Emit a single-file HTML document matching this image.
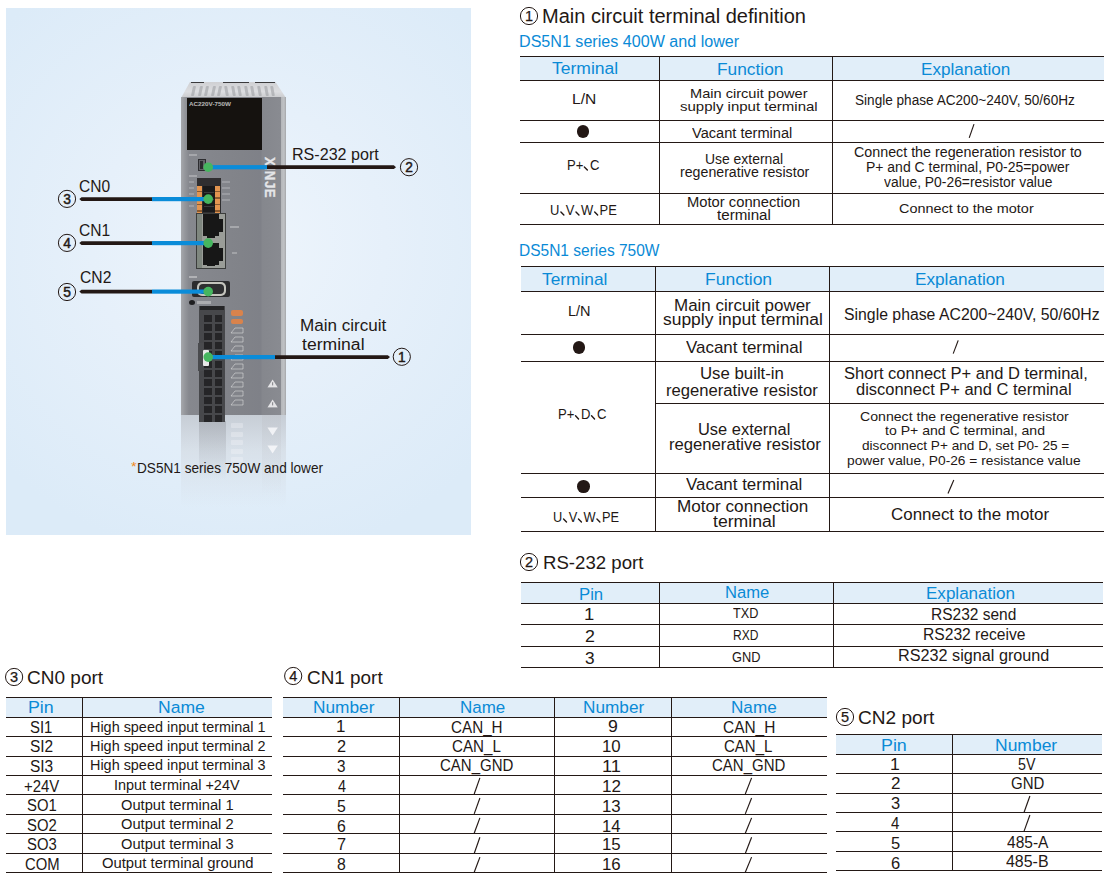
<!DOCTYPE html>
<html><head><meta charset="utf-8"><style>
html,body{margin:0;padding:0;background:#fff;width:1111px;height:878px;overflow:hidden;position:relative}
.t{position:absolute;white-space:nowrap;line-height:1;font-family:"Liberation Sans",sans-serif;transform-origin:0 0}
</style></head><body>
<div style="position:absolute;left:6px;top:8px;width:465px;height:527px;background:radial-gradient(ellipse 70% 60% at 50% 45%, #eef5fc 0%, #e6f0fa 45%, #dcebf8 100%);"></div>
<div style="position:absolute;left:181px;top:415px;width:105px;height:92px;background:linear-gradient(to bottom, rgba(175,178,184,0.55) 0%, rgba(205,209,215,0.45) 40%, rgba(232,238,246,0) 100%);"></div>
<div style="position:absolute;left:199px;top:421px;width:27px;height:58px;background:linear-gradient(to bottom, rgba(120,122,128,0.30), rgba(200,205,215,0));"></div>
<div style="position:absolute;left:262px;top:415px;width:19px;height:80px;background:linear-gradient(to bottom, rgba(190,192,198,0.35), rgba(220,225,235,0));"></div>
<div style="position:absolute;left:231px;top:423.0px;width:12px;height:5px;background:rgba(250,250,252,0.3);border-radius:1px"></div>
<div style="position:absolute;left:231px;top:431.5px;width:12px;height:5px;background:rgba(250,250,252,0.3);border-radius:1px"></div>
<div style="position:absolute;left:231px;top:440.0px;width:12px;height:5px;background:rgba(250,250,252,0.3);border-radius:1px"></div>
<div style="position:absolute;left:231px;top:448.5px;width:12px;height:5px;background:rgba(250,250,252,0.3);border-radius:1px"></div>
<div style="position:absolute;left:231px;top:457.0px;width:12px;height:5px;background:rgba(250,250,252,0.3);border-radius:1px"></div>
<div style="position:absolute;left:231px;top:465.5px;width:12px;height:5px;background:rgba(250,250,252,0.3);border-radius:1px"></div>
<div style="position:absolute;left:181px;top:82px;width:105px;height:16px;background:linear-gradient(to bottom,#cfd0d3,#dcdde0 60%,#c9cacd);clip-path:polygon(8.5% 0,90% 0,100% 100%,0 100%)"></div>
<div style="position:absolute;left:192.0px;top:86px;width:3px;height:10px;background:rgba(140,142,146,0.45);border-radius:1px;transform:skewX(-12deg)"></div>
<div style="position:absolute;left:198.6px;top:86px;width:3px;height:10px;background:rgba(140,142,146,0.45);border-radius:1px;transform:skewX(-12deg)"></div>
<div style="position:absolute;left:205.2px;top:86px;width:3px;height:10px;background:rgba(140,142,146,0.45);border-radius:1px;transform:skewX(-12deg)"></div>
<div style="position:absolute;left:211.8px;top:86px;width:3px;height:10px;background:rgba(140,142,146,0.45);border-radius:1px;transform:skewX(-12deg)"></div>
<div style="position:absolute;left:218.4px;top:86px;width:3px;height:10px;background:rgba(140,142,146,0.45);border-radius:1px;transform:skewX(-12deg)"></div>
<div style="position:absolute;left:225.0px;top:86px;width:3px;height:10px;background:rgba(140,142,146,0.45);border-radius:1px;transform:skewX(10deg)"></div>
<div style="position:absolute;left:231.6px;top:86px;width:3px;height:10px;background:rgba(140,142,146,0.45);border-radius:1px;transform:skewX(10deg)"></div>
<div style="position:absolute;left:238.2px;top:86px;width:3px;height:10px;background:rgba(140,142,146,0.45);border-radius:1px;transform:skewX(10deg)"></div>
<div style="position:absolute;left:244.8px;top:86px;width:3px;height:10px;background:rgba(140,142,146,0.45);border-radius:1px;transform:skewX(10deg)"></div>
<div style="position:absolute;left:251.4px;top:86px;width:3px;height:10px;background:rgba(140,142,146,0.45);border-radius:1px;transform:skewX(10deg)"></div>
<div style="position:absolute;left:258.0px;top:86px;width:3px;height:10px;background:rgba(140,142,146,0.45);border-radius:1px;transform:skewX(10deg)"></div>
<div style="position:absolute;left:264.6px;top:86px;width:3px;height:10px;background:rgba(140,142,146,0.45);border-radius:1px;transform:skewX(10deg)"></div>
<div style="position:absolute;left:271.2px;top:86px;width:3px;height:10px;background:rgba(140,142,146,0.45);border-radius:1px;transform:skewX(10deg)"></div>
<div style="position:absolute;left:191px;top:82px;width:13px;height:1.2px;background:#3a3a3c;"></div>
<div style="position:absolute;left:223px;top:82px;width:26px;height:1.2px;background:#3a3a3c;"></div>
<div style="position:absolute;left:255px;top:82px;width:20px;height:1.2px;background:#3a3a3c;"></div>
<div style="position:absolute;left:181px;top:97px;width:105px;height:318px;background:linear-gradient(to right,#a6a8ac 0px,#94969b 4px,#86888e 8px,#818389 60px,#7f8188 80px,#85878d 81px,#898b91 100px,#b4b6b9 100px,#c0c2c5 103px,#a3a5a8 105px);"></div>
<div style="position:absolute;left:187px;top:98px;width:75px;height:52px;background:#15120f;"></div>
<div style="position:absolute;left:189px;top:101px;font:bold 6px 'Liberation Sans';line-height:6px;color:rgba(240,240,240,0.75);transform-origin:0 0;transform:scaleX(1.05);white-space:nowrap">AC220V-750W</div>
<div style="position:absolute;left:189px;top:154px;width:8px;height:2px;background:rgba(225,225,228,0.35);"></div>
<div style="position:absolute;left:198px;top:159px;width:8px;height:12px;background:#626368;border:1px solid #2d2d30;box-sizing:border-box"></div>
<div style="position:absolute;left:200px;top:161px;width:3px;height:8px;background:#2b2b2e;"></div>
<div style="position:absolute;left:189px;top:175px;width:8px;height:2px;background:rgba(225,225,228,0.35);"></div>
<div style="position:absolute;left:189px;top:181px;width:5px;height:2px;background:rgba(225,225,228,0.25);"></div>
<div style="position:absolute;left:189px;top:187px;width:5px;height:2px;background:rgba(225,225,228,0.25);"></div>
<div style="position:absolute;left:189px;top:193px;width:5px;height:2px;background:rgba(225,225,228,0.25);"></div>
<div style="position:absolute;left:189px;top:199px;width:5px;height:2px;background:rgba(225,225,228,0.25);"></div>
<div style="position:absolute;left:189px;top:205px;width:5px;height:2px;background:rgba(225,225,228,0.25);"></div>
<div style="position:absolute;left:222px;top:181px;width:8px;height:2px;background:rgba(225,225,228,0.25);"></div>
<div style="position:absolute;left:222px;top:187px;width:8px;height:2px;background:rgba(225,225,228,0.25);"></div>
<div style="position:absolute;left:222px;top:193px;width:8px;height:2px;background:rgba(225,225,228,0.25);"></div>
<div style="position:absolute;left:222px;top:199px;width:8px;height:2px;background:rgba(225,225,228,0.25);"></div>
<div style="position:absolute;left:197px;top:178px;width:24px;height:35px;background:#2f2e30;"></div>
<div style="position:absolute;left:197px;top:186px;width:5px;height:27px;background:repeating-linear-gradient(to bottom,#e39550 0px,#e39550 5px,#8a5a30 5px,#8a5a30 6.5px);"></div>
<div style="position:absolute;left:215px;top:186px;width:5px;height:27px;background:repeating-linear-gradient(to bottom,#e39550 0px,#e39550 5px,#8a5a30 5px,#8a5a30 6.5px);"></div>
<div style="position:absolute;left:203px;top:186px;width:12px;height:26px;background:#1a1a1b;"></div>
<div style="position:absolute;left:204px;top:192px;width:10px;height:1px;background:#3a3a3c;"></div>
<div style="position:absolute;left:204px;top:199px;width:10px;height:1px;background:#3a3a3c;"></div>
<div style="position:absolute;left:204px;top:206px;width:10px;height:1px;background:#3a3a3c;"></div>
<div style="position:absolute;left:196px;top:213px;width:30px;height:56px;background:#3b3d3c;"></div>
<div style="position:absolute;left:197px;top:214px;width:28px;height:54px;background:#9a9d98;"></div>
<div style="position:absolute;left:197px;top:214px;width:5px;height:54px;background:#7f877f;"></div>
<div style="position:absolute;left:203px;top:214px;width:16px;height:22px;background:#171717;"></div>
<div style="position:absolute;left:203px;top:243px;width:16px;height:22px;background:#171717;"></div>
<div style="position:absolute;left:219px;top:219px;width:4px;height:13px;background:#171717;"></div>
<div style="position:absolute;left:219px;top:248px;width:4px;height:13px;background:#171717;"></div>
<div style="position:absolute;left:207px;top:235px;width:8px;height:3px;background:#171717;"></div>
<div style="position:absolute;left:207px;top:264px;width:8px;height:2px;background:#171717;"></div>
<div style="position:absolute;left:230px;top:226px;width:9px;height:2px;background:rgba(235,235,235,0.35);"></div>
<div style="position:absolute;left:232px;top:252px;width:5px;height:2px;background:rgba(235,235,235,0.3);"></div>
<div style="position:absolute;left:189px;top:276px;width:8px;height:2px;background:rgba(230,230,230,0.45);"></div>
<div style="position:absolute;left:192px;top:281px;width:38px;height:16px;background:#2c2c2e;border-radius:2px"></div>
<div style="position:absolute;left:197px;top:282px;width:29px;height:14px;background:#c4c4bd;border-radius:5px"></div>
<div style="position:absolute;left:199px;top:284px;width:25px;height:10px;background:#2e2e30;border-radius:4px"></div>
<div style="position:absolute;left:189px;top:300px;width:6px;height:5px;background:#1e1e20;border-radius:50%"></div>
<div style="position:absolute;left:197px;top:301px;width:14px;height:3px;background:rgba(230,230,230,0.4);"></div>
<div style="position:absolute;left:199px;top:306px;width:26px;height:116px;background:#47484b;"></div>
<div style="position:absolute;left:200px;top:306px;width:24px;height:4px;background:#252527;"></div>
<div style="position:absolute;left:204px;top:315.0px;width:8px;height:7px;background:#252527;"></div>
<div style="position:absolute;left:215px;top:315.0px;width:7px;height:7px;background:#252527;"></div>
<div style="position:absolute;left:204px;top:324.1px;width:8px;height:7px;background:#252527;"></div>
<div style="position:absolute;left:215px;top:324.1px;width:7px;height:7px;background:#252527;"></div>
<div style="position:absolute;left:204px;top:333.2px;width:8px;height:7px;background:#252527;"></div>
<div style="position:absolute;left:215px;top:333.2px;width:7px;height:7px;background:#252527;"></div>
<div style="position:absolute;left:204px;top:342.3px;width:8px;height:7px;background:#252527;"></div>
<div style="position:absolute;left:215px;top:342.3px;width:7px;height:7px;background:#252527;"></div>
<div style="position:absolute;left:204px;top:351.4px;width:8px;height:7px;background:#252527;"></div>
<div style="position:absolute;left:215px;top:351.4px;width:7px;height:7px;background:#252527;"></div>
<div style="position:absolute;left:204px;top:360.5px;width:8px;height:7px;background:#252527;"></div>
<div style="position:absolute;left:215px;top:360.5px;width:7px;height:7px;background:#252527;"></div>
<div style="position:absolute;left:204px;top:369.6px;width:8px;height:7px;background:#252527;"></div>
<div style="position:absolute;left:215px;top:369.6px;width:7px;height:7px;background:#252527;"></div>
<div style="position:absolute;left:204px;top:378.7px;width:8px;height:7px;background:#252527;"></div>
<div style="position:absolute;left:215px;top:378.7px;width:7px;height:7px;background:#252527;"></div>
<div style="position:absolute;left:204px;top:387.8px;width:8px;height:7px;background:#252527;"></div>
<div style="position:absolute;left:215px;top:387.8px;width:7px;height:7px;background:#252527;"></div>
<div style="position:absolute;left:204px;top:396.9px;width:8px;height:7px;background:#252527;"></div>
<div style="position:absolute;left:215px;top:396.9px;width:7px;height:7px;background:#252527;"></div>
<div style="position:absolute;left:204px;top:406.0px;width:8px;height:7px;background:#252527;"></div>
<div style="position:absolute;left:215px;top:406.0px;width:7px;height:7px;background:#252527;"></div>
<div style="position:absolute;left:204px;top:415.1px;width:8px;height:7px;background:#252527;"></div>
<div style="position:absolute;left:215px;top:415.1px;width:7px;height:7px;background:#252527;"></div>
<div style="position:absolute;left:198px;top:343px;width:6px;height:28px;background:#4a4b4e;"></div>
<div style="position:absolute;left:203px;top:350px;width:6px;height:16px;background:#e8e8e8;border-radius:1px"></div>
<div style="position:absolute;left:231px;top:309.5px;width:12px;height:6px;background:#d9834c;border-radius:2px"></div>
<div style="position:absolute;left:231px;top:318.5px;width:12px;height:5px;background:#d9834c;border-radius:2px"></div>
<svg style="position:absolute;left:230px;top:327px" width="14" height="7"><polygon points="1,6 5,1 13,1 13,6" fill="none" stroke="rgba(235,235,235,0.5)" stroke-width="1"/></svg>
<svg style="position:absolute;left:230px;top:336px" width="14" height="7"><polygon points="1,6 5,1 13,1 13,6" fill="none" stroke="rgba(235,235,235,0.5)" stroke-width="1"/></svg>
<svg style="position:absolute;left:230px;top:345px" width="14" height="7"><polygon points="1,6 5,1 13,1 13,6" fill="none" stroke="rgba(235,235,235,0.5)" stroke-width="1"/></svg>
<svg style="position:absolute;left:230px;top:354px" width="14" height="7"><polygon points="1,6 5,1 13,1 13,6" fill="none" stroke="rgba(235,235,235,0.5)" stroke-width="1"/></svg>
<svg style="position:absolute;left:230px;top:363px" width="14" height="7"><polygon points="1,6 5,1 13,1 13,6" fill="none" stroke="rgba(235,235,235,0.5)" stroke-width="1"/></svg>
<svg style="position:absolute;left:230px;top:372px" width="14" height="7"><polygon points="1,6 5,1 13,1 13,6" fill="none" stroke="rgba(235,235,235,0.5)" stroke-width="1"/></svg>
<svg style="position:absolute;left:230px;top:381px" width="14" height="7"><polygon points="1,6 5,1 13,1 13,6" fill="none" stroke="rgba(235,235,235,0.5)" stroke-width="1"/></svg>
<svg style="position:absolute;left:230px;top:390px" width="14" height="7"><polygon points="1,6 5,1 13,1 13,6" fill="none" stroke="rgba(235,235,235,0.5)" stroke-width="1"/></svg>
<svg style="position:absolute;left:230px;top:399px" width="14" height="7"><polygon points="1,6 5,1 13,1 13,6" fill="none" stroke="rgba(235,235,235,0.5)" stroke-width="1"/></svg>
<div style="position:absolute;left:265px;top:157px;width:60px;height:14px;line-height:14px;transform-origin:0 0;transform:translate(13px,0) rotate(90deg) scaleX(0.95);font:bold 14px 'Liberation Sans';color:#e4e5e8;letter-spacing:0.6px;-webkit-text-stroke:0.3px #e4e5e8">XINJE</div>
<svg style="position:absolute;left:267px;top:379px;transform:scale(0.8);transform-origin:0 0" width="14" height="11"><polygon points="7,0.5 13.5,10.5 0.5,10.5" fill="#e4e4e6"/><rect x="6.3" y="4" width="1.4" height="4" fill="#8a8b90"/></svg>
<svg style="position:absolute;left:267px;top:398.5px;transform:scale(0.8);transform-origin:0 0" width="14" height="11"><polygon points="7,0.5 13.5,10.5 0.5,10.5" fill="#e4e4e6"/><rect x="6.3" y="4" width="1.4" height="4" fill="#8a8b90"/></svg>
<svg style="position:absolute;left:267px;top:427px;transform:scale(0.8);transform-origin:0 0" width="14" height="11"><polygon points="0.5,0.5 13.5,0.5 7,10.5" fill="rgba(250,250,252,0.8)"/></svg>
<svg style="position:absolute;left:267px;top:445px;transform:scale(0.8);transform-origin:0 0" width="14" height="11"><polygon points="0.5,0.5 13.5,0.5 7,10.5" fill="rgba(250,250,252,0.8)"/></svg>
<svg style="position:absolute;left:0;top:0;overflow:visible" width="1" height="1"><rect x="208" y="165.1" width="59" height="4.2" fill="#0a8cd9"/><polygon points="396,167.2 393.8,165.29999999999998 267,165.29999999999998 267,169.1 393.8,169.1" fill="#231815"/><polygon points="79.3,199.1 81.5,197.2 152,197.2 152,201.0 81.5,201.0" fill="#231815"/><rect x="152" y="197.0" width="56" height="4.2" fill="#0a8cd9"/><polygon points="79.3,243.1 81.5,241.2 152,241.2 152,245.0 81.5,245.0" fill="#231815"/><rect x="152" y="241.0" width="56" height="4.2" fill="#0a8cd9"/><polygon points="79.3,291.6 81.5,289.70000000000005 152,289.70000000000005 152,293.5 81.5,293.5" fill="#231815"/><rect x="152" y="289.5" width="56" height="4.2" fill="#0a8cd9"/><rect x="208" y="355.0" width="67" height="4.2" fill="#0a8cd9"/><polygon points="390,357.1 387.8,355.20000000000005 275,355.20000000000005 275,359.0 387.8,359.0" fill="#231815"/><circle cx="208.2" cy="167.2" r="4.8" fill="#46b65f"/><circle cx="208.2" cy="199.1" r="4.8" fill="#46b65f"/><circle cx="208.2" cy="243.1" r="4.8" fill="#46b65f"/><circle cx="208.2" cy="291.6" r="4.8" fill="#46b65f"/><circle cx="208.2" cy="357.1" r="4.8" fill="#46b65f"/><circle cx="409" cy="167.2" r="8.6" fill="none" stroke="#231815" stroke-width="1"/><text x="409" y="172.10" text-anchor="middle" font-family="Liberation Sans" font-size="13.8" fill="#231815" stroke="#231815" stroke-width="0.45">2</text><circle cx="67" cy="198.9" r="8.6" fill="none" stroke="#231815" stroke-width="1"/><text x="67" y="203.80" text-anchor="middle" font-family="Liberation Sans" font-size="13.8" fill="#231815" stroke="#231815" stroke-width="0.45">3</text><circle cx="67" cy="242.9" r="8.6" fill="none" stroke="#231815" stroke-width="1"/><text x="67" y="247.80" text-anchor="middle" font-family="Liberation Sans" font-size="13.8" fill="#231815" stroke="#231815" stroke-width="0.45">4</text><circle cx="67" cy="292" r="8.6" fill="none" stroke="#231815" stroke-width="1"/><text x="67" y="296.90" text-anchor="middle" font-family="Liberation Sans" font-size="13.8" fill="#231815" stroke="#231815" stroke-width="0.45">5</text><circle cx="401.8" cy="356.8" r="8.6" fill="none" stroke="#231815" stroke-width="1"/><text x="401.8" y="361.70" text-anchor="middle" font-family="Liberation Sans" font-size="13.8" fill="#231815" stroke="#231815" stroke-width="0.45">1</text></svg>
<svg style="position:absolute;left:0;top:0;overflow:visible" width="1" height="1"><circle cx="529" cy="16" r="8.6" fill="none" stroke="#231815" stroke-width="1.0"/><text x="529" y="21.07" text-anchor="middle" font-family="Liberation Sans" font-size="14.5" fill="#231815" stroke="#231815" stroke-width="0.25">1</text></svg>
<div class="t" style="left:541.50px;top:6.00px;font-size:20.00px;transform:scaleX(1.0019);color:#231815;">Main circuit terminal definition</div>
<div class="t" style="left:518.73px;top:34.00px;font-size:15.80px;transform:scaleX(1.0191);color:#0a8ad6;">DS5N1 series 400W and lower</div>
<div style="position:absolute;left:520px;top:56px;width:584px;height:24px;background:#e1eef9;"></div>
<div style="position:absolute;left:520px;top:56px;width:584px;height:1px;background:#231815;"></div>
<div style="position:absolute;left:520px;top:80px;width:584px;height:1px;background:#231815;"></div>
<div style="position:absolute;left:520px;top:120px;width:584px;height:1px;background:#231815;"></div>
<div style="position:absolute;left:520px;top:142px;width:584px;height:1px;background:#231815;"></div>
<div style="position:absolute;left:520px;top:193px;width:584px;height:1px;background:#231815;"></div>
<div style="position:absolute;left:520px;top:224px;width:584px;height:1px;background:#231815;"></div>
<div style="position:absolute;left:659px;top:56px;width:1px;height:169px;background:#231815;"></div>
<div style="position:absolute;left:832px;top:56px;width:1px;height:169px;background:#231815;"></div>
<div class="t" style="left:552.15px;top:60.00px;font-size:17.25px;transform:scaleX(1.0165);color:#0a8ad6;">Terminal</div>
<div class="t" style="left:717.39px;top:61.00px;font-size:17.20px;transform:scaleX(1.0079);color:#0a8ad6;">Function</div>
<div class="t" style="left:920.51px;top:61.00px;font-size:17.20px;transform:scaleX(0.9948);color:#0a8ad6;">Explanation</div>
<div class="t" style="left:572.41px;top:91.00px;font-size:15.07px;transform:scaleX(1.0333);color:#231815;">L/N</div>
<div class="t" style="left:689.53px;top:87.00px;font-size:13.60px;transform:scaleX(1.0734);color:#231815;">Main circuit power</div>
<div class="t" style="left:679.55px;top:100.00px;font-size:13.60px;transform:scaleX(1.1043);color:#231815;">supply input terminal</div>
<div class="t" style="left:854.73px;top:92.00px;font-size:15.22px;transform:scaleX(0.8932);color:#231815;">Single phase AC200~240V, 50/60Hz</div>
<div style="position:absolute;left:576.55px;top:125.44999999999999px;width:12.5px;height:12.5px;background:#231815;border-radius:50%"></div>
<div class="t" style="left:691.60px;top:127.00px;font-size:13.91px;transform:scaleX(1.0491);color:#231815;">Vacant terminal</div>
<svg style="position:absolute;left:0;top:0;overflow:visible" width="1" height="1"><line x1="969.2" y1="137.9" x2="974" y2="124.1" stroke="#231815" stroke-width="1.15"/></svg>
<div class="t" style="left:566.57px;top:158.00px;font-size:14.49px;transform:scaleX(0.9022);color:#231815;">P+ C</div>
<svg style="position:absolute;left:0;top:0;overflow:visible" width="1" height="1"><line x1="584.35" y1="166.96" x2="587.36" y2="170.00" stroke="#231815" stroke-width="1.4" stroke-linecap="round"/></svg>
<div class="t" style="left:705.49px;top:153.00px;font-size:13.80px;transform:scaleX(1.0086);color:#231815;">Use external</div>
<div class="t" style="left:679.57px;top:166.00px;font-size:13.80px;transform:scaleX(1.0277);color:#231815;">regenerative resistor</div>
<div class="t" style="left:853.62px;top:146.00px;font-size:13.80px;transform:scaleX(1.0350);color:#231815;">Connect the regeneration resistor to</div>
<div class="t" style="left:865.59px;top:161.00px;font-size:13.80px;transform:scaleX(1.0123);color:#231815;">P+ and C terminal, P0-25=power</div>
<div class="t" style="left:884.40px;top:176.00px;font-size:13.80px;transform:scaleX(1.0048);color:#231815;">value, P0-26=resistor value</div>
<div class="t" style="left:550.11px;top:203.00px;font-size:14.64px;transform:scaleX(0.8851);color:#231815;">U V W PE</div>
<svg style="position:absolute;left:0;top:0;overflow:visible" width="1" height="1"><line x1="560.89" y1="211.93" x2="563.87" y2="215.00" stroke="#231815" stroke-width="1.4" stroke-linecap="round"/></svg>
<svg style="position:absolute;left:0;top:0;overflow:visible" width="1" height="1"><line x1="575.99" y1="211.93" x2="578.97" y2="215.00" stroke="#231815" stroke-width="1.4" stroke-linecap="round"/></svg>
<svg style="position:absolute;left:0;top:0;overflow:visible" width="1" height="1"><line x1="594.68" y1="211.93" x2="597.65" y2="215.00" stroke="#231815" stroke-width="1.4" stroke-linecap="round"/></svg>
<div class="t" style="left:687.33px;top:196.00px;font-size:13.80px;transform:scaleX(1.0692);color:#231815;">Motor connection</div>
<div class="t" style="left:716.93px;top:209.00px;font-size:13.80px;transform:scaleX(1.0979);color:#231815;">terminal</div>
<div class="t" style="left:899.00px;top:202.00px;font-size:13.60px;transform:scaleX(1.0611);color:#231815;">Connect to the motor</div>
<div class="t" style="left:518.85px;top:243.00px;font-size:16.81px;transform:scaleX(0.9232);color:#0a8ad6;">DS5N1 series 750W</div>
<div style="position:absolute;left:521px;top:266px;width:583px;height:25px;background:#e1eef9;"></div>
<div style="position:absolute;left:521px;top:266px;width:583px;height:1px;background:#231815;"></div>
<div style="position:absolute;left:521px;top:291px;width:583px;height:1px;background:#231815;"></div>
<div style="position:absolute;left:521px;top:334px;width:583px;height:1px;background:#231815;"></div>
<div style="position:absolute;left:521px;top:361px;width:583px;height:1px;background:#231815;"></div>
<div style="position:absolute;left:521px;top:473px;width:583px;height:1px;background:#231815;"></div>
<div style="position:absolute;left:521px;top:497px;width:583px;height:1px;background:#231815;"></div>
<div style="position:absolute;left:521px;top:531px;width:583px;height:1px;background:#231815;"></div>
<div style="position:absolute;left:655px;top:266px;width:1px;height:266px;background:#231815;"></div>
<div style="position:absolute;left:829px;top:266px;width:1px;height:266px;background:#231815;"></div>
<div style="position:absolute;left:655px;top:403px;width:449px;height:1px;background:#231815;"></div>
<div class="t" style="left:542.34px;top:272.00px;font-size:16.81px;transform:scaleX(1.0297);color:#0a8ad6;">Terminal</div>
<div class="t" style="left:705.28px;top:271.00px;font-size:17.25px;transform:scaleX(1.0142);color:#0a8ad6;">Function</div>
<div class="t" style="left:914.71px;top:271.00px;font-size:17.25px;transform:scaleX(0.9966);color:#0a8ad6;">Explanation</div>
<div class="t" style="left:567.59px;top:304.00px;font-size:14.93px;transform:scaleX(0.9714);color:#231815;">L/N</div>
<div class="t" style="left:674.37px;top:298.00px;font-size:15.94px;transform:scaleX(1.0646);color:#231815;">Main circuit power</div>
<div class="t" style="left:662.86px;top:312.00px;font-size:16.00px;transform:scaleX(1.0892);color:#231815;">supply input terminal</div>
<div class="t" style="left:844.11px;top:306.00px;font-size:17.25px;transform:scaleX(0.9165);color:#231815;">Single phase AC200~240V, 50/60Hz</div>
<div style="position:absolute;left:572.6px;top:341.20000000000005px;width:12.8px;height:12.8px;background:#231815;border-radius:50%"></div>
<div class="t" style="left:686.10px;top:339.00px;font-size:16.38px;transform:scaleX(1.0359);color:#231815;">Vacant terminal</div>
<svg style="position:absolute;left:0;top:0;overflow:visible" width="1" height="1"><line x1="953.2" y1="353.6" x2="958.2" y2="340.4" stroke="#231815" stroke-width="1.15"/></svg>
<div class="t" style="left:557.71px;top:406.00px;font-size:15.07px;transform:scaleX(0.8688);color:#231815;">P+ D C</div>
<svg style="position:absolute;left:0;top:0;overflow:visible" width="1" height="1"><line x1="575.53" y1="415.83" x2="578.54" y2="419.00" stroke="#231815" stroke-width="1.4" stroke-linecap="round"/></svg>
<svg style="position:absolute;left:0;top:0;overflow:visible" width="1" height="1"><line x1="591.52" y1="415.83" x2="594.53" y2="419.00" stroke="#231815" stroke-width="1.4" stroke-linecap="round"/></svg>
<div class="t" style="left:699.89px;top:366.00px;font-size:16.00px;transform:scaleX(1.0487);color:#231815;">Use built-in</div>
<div class="t" style="left:665.66px;top:383.00px;font-size:16.00px;transform:scaleX(1.0401);color:#231815;">regenerative resistor</div>
<div class="t" style="left:844.02px;top:366.00px;font-size:15.94px;transform:scaleX(1.0365);color:#231815;">Short connect P+ and D terminal,</div>
<div class="t" style="left:855.93px;top:382.00px;font-size:16.00px;transform:scaleX(1.0291);color:#231815;">disconnect P+ and C terminal</div>
<div class="t" style="left:698.32px;top:422.00px;font-size:16.00px;transform:scaleX(1.0274);color:#231815;">Use external</div>
<div class="t" style="left:668.56px;top:437.00px;font-size:16.00px;transform:scaleX(1.0408);color:#231815;">regenerative resistor</div>
<div class="t" style="left:860.01px;top:410.00px;font-size:13.40px;transform:scaleX(1.0540);color:#231815;">Connect the regenerative resistor</div>
<div class="t" style="left:884.54px;top:424.00px;font-size:13.40px;transform:scaleX(1.0512);color:#231815;">to P+ and C terminal, and</div>
<div class="t" style="left:862.19px;top:439.00px;font-size:13.40px;transform:scaleX(1.0163);color:#231815;">disconnect P+ and D, set P0- 25 =</div>
<div class="t" style="left:847.43px;top:454.00px;font-size:13.40px;transform:scaleX(1.0272);color:#231815;">power value, P0-26 = resistance value</div>
<div style="position:absolute;left:577.4499999999999px;top:480.04999999999995px;width:12.7px;height:12.7px;background:#231815;border-radius:50%"></div>
<div class="t" style="left:685.50px;top:477.00px;font-size:16.52px;transform:scaleX(1.0249);color:#231815;">Vacant terminal</div>
<svg style="position:absolute;left:0;top:0;overflow:visible" width="1" height="1"><line x1="948" y1="493.6" x2="953.8" y2="480" stroke="#231815" stroke-width="1.15"/></svg>
<div class="t" style="left:552.90px;top:510.00px;font-size:14.20px;transform:scaleX(0.9014);color:#231815;">U V W PE</div>
<svg style="position:absolute;left:0;top:0;overflow:visible" width="1" height="1"><line x1="563.54" y1="519.02" x2="566.49" y2="522.00" stroke="#231815" stroke-width="1.4" stroke-linecap="round"/></svg>
<svg style="position:absolute;left:0;top:0;overflow:visible" width="1" height="1"><line x1="578.47" y1="519.02" x2="581.42" y2="522.00" stroke="#231815" stroke-width="1.4" stroke-linecap="round"/></svg>
<svg style="position:absolute;left:0;top:0;overflow:visible" width="1" height="1"><line x1="596.94" y1="519.02" x2="599.88" y2="522.00" stroke="#231815" stroke-width="1.4" stroke-linecap="round"/></svg>
<div class="t" style="left:676.66px;top:499.00px;font-size:16.00px;transform:scaleX(1.0705);color:#231815;">Motor connection</div>
<div class="t" style="left:713.42px;top:514.00px;font-size:16.00px;transform:scaleX(1.1027);color:#231815;">terminal</div>
<div class="t" style="left:890.85px;top:506.00px;font-size:17.00px;transform:scaleX(0.9959);color:#231815;">Connect to the motor</div>
<svg style="position:absolute;left:0;top:0;overflow:visible" width="1" height="1"><circle cx="529" cy="562" r="8.6" fill="none" stroke="#231815" stroke-width="1.0"/><text x="529" y="567.08" text-anchor="middle" font-family="Liberation Sans" font-size="14.5" fill="#231815" stroke="#231815" stroke-width="0.25">2</text></svg>
<div class="t" style="left:542.52px;top:554.00px;font-size:18.84px;transform:scaleX(0.9885);color:#231815;">RS-232 port</div>
<div style="position:absolute;left:521px;top:582px;width:582px;height:21px;background:#e1eef9;"></div>
<div style="position:absolute;left:521px;top:582px;width:582px;height:1px;background:#231815;"></div>
<div style="position:absolute;left:521px;top:603px;width:582px;height:1px;background:#231815;"></div>
<div style="position:absolute;left:521px;top:624px;width:582px;height:1px;background:#231815;"></div>
<div style="position:absolute;left:521px;top:646px;width:582px;height:1px;background:#231815;"></div>
<div style="position:absolute;left:521px;top:667px;width:582px;height:1px;background:#231815;"></div>
<div style="position:absolute;left:659px;top:582px;width:1px;height:86px;background:#231815;"></div>
<div style="position:absolute;left:833px;top:582px;width:1px;height:86px;background:#231815;"></div>
<div class="t" style="left:578.96px;top:587.00px;font-size:16.80px;transform:scaleX(0.9955);color:#0a8ad6;">Pin</div>
<div class="t" style="left:724.86px;top:585.00px;font-size:16.80px;transform:scaleX(0.9895);color:#0a8ad6;">Name</div>
<div class="t" style="left:925.73px;top:586.00px;font-size:16.80px;transform:scaleX(1.0152);color:#0a8ad6;">Explanation</div>
<div class="t" style="left:584.00px;top:606.00px;font-size:16.50px;transform:scaleX(1.1172);color:#231815;">1</div>
<div class="t" style="left:584.59px;top:628.00px;font-size:16.50px;transform:scaleX(1.0800);color:#231815;">2</div>
<div class="t" style="left:584.62px;top:650.00px;font-size:16.50px;transform:scaleX(1.0452);color:#231815;">3</div>
<div class="t" style="left:733.19px;top:606.00px;font-size:14.93px;transform:scaleX(0.8517);color:#231815;">TXD</div>
<div class="t" style="left:732.98px;top:628.00px;font-size:14.78px;transform:scaleX(0.8137);color:#231815;">RXD</div>
<div class="t" style="left:731.95px;top:650.00px;font-size:14.80px;transform:scaleX(0.8635);color:#231815;">GND</div>
<div class="t" style="left:930.67px;top:607.00px;font-size:15.80px;transform:scaleX(0.9805);color:#231815;">RS232 send</div>
<div class="t" style="left:922.56px;top:627.00px;font-size:15.80px;transform:scaleX(0.9892);color:#231815;">RS232 receive</div>
<div class="t" style="left:897.52px;top:648.00px;font-size:15.80px;transform:scaleX(1.0258);color:#231815;">RS232 signal ground</div>
<svg style="position:absolute;left:0;top:0;overflow:visible" width="1" height="1"><circle cx="14.1" cy="677" r="8.6" fill="none" stroke="#231815" stroke-width="1.0"/><text x="14.1" y="682.08" text-anchor="middle" font-family="Liberation Sans" font-size="14.5" fill="#231815" stroke="#231815" stroke-width="0.25">3</text></svg>
<div class="t" style="left:26.71px;top:668.00px;font-size:19.28px;transform:scaleX(0.9868);color:#231815;">CN0 port</div>
<div style="position:absolute;left:6px;top:697px;width:266px;height:20px;background:#e1eef9;"></div>
<div style="position:absolute;left:6px;top:697px;width:266px;height:1px;background:#231815;"></div>
<div style="position:absolute;left:6px;top:717px;width:266px;height:1px;background:#231815;"></div>
<div style="position:absolute;left:6px;top:736px;width:266px;height:1px;background:#231815;"></div>
<div style="position:absolute;left:6px;top:756px;width:266px;height:1px;background:#231815;"></div>
<div style="position:absolute;left:6px;top:775px;width:266px;height:1px;background:#231815;"></div>
<div style="position:absolute;left:6px;top:794px;width:266px;height:1px;background:#231815;"></div>
<div style="position:absolute;left:6px;top:814px;width:266px;height:1px;background:#231815;"></div>
<div style="position:absolute;left:6px;top:833px;width:266px;height:1px;background:#231815;"></div>
<div style="position:absolute;left:6px;top:853px;width:266px;height:1px;background:#231815;"></div>
<div style="position:absolute;left:6px;top:872px;width:266px;height:1px;background:#231815;"></div>
<div style="position:absolute;left:82px;top:697px;width:1px;height:176px;background:#231815;"></div>
<div class="t" style="left:28.28px;top:700.00px;font-size:16.80px;transform:scaleX(1.0591);color:#0a8ad6;">Pin</div>
<div class="t" style="left:157.89px;top:700.00px;font-size:16.80px;transform:scaleX(1.0456);color:#0a8ad6;">Name</div>
<div class="t" style="left:30.19px;top:720.00px;font-size:15.80px;transform:scaleX(0.9438);color:#231815;">SI1</div>
<div class="t" style="left:29.87px;top:739.00px;font-size:15.80px;transform:scaleX(0.9798);color:#231815;">SI2</div>
<div class="t" style="left:29.87px;top:759.00px;font-size:15.80px;transform:scaleX(0.9798);color:#231815;">SI3</div>
<div class="t" style="left:23.69px;top:779.00px;font-size:15.80px;transform:scaleX(0.9452);color:#231815;">+24V</div>
<div class="t" style="left:27.30px;top:798.00px;font-size:15.80px;transform:scaleX(0.9400);color:#231815;">SO1</div>
<div class="t" style="left:27.30px;top:818.00px;font-size:15.80px;transform:scaleX(0.9400);color:#231815;">SO2</div>
<div class="t" style="left:27.30px;top:837.00px;font-size:15.80px;transform:scaleX(0.9400);color:#231815;">SO3</div>
<div class="t" style="left:25.00px;top:857.00px;font-size:15.80px;transform:scaleX(0.9381);color:#231815;">COM</div>
<div class="t" style="left:89.57px;top:720.00px;font-size:14.70px;transform:scaleX(0.9814);color:#231815;">High speed input terminal 1</div>
<div class="t" style="left:89.57px;top:739.00px;font-size:14.70px;transform:scaleX(0.9814);color:#231815;">High speed input terminal 2</div>
<div class="t" style="left:89.57px;top:758.00px;font-size:14.70px;transform:scaleX(0.9814);color:#231815;">High speed input terminal 3</div>
<div class="t" style="left:114.37px;top:778.00px;font-size:14.70px;transform:scaleX(0.9826);color:#231815;">Input terminal +24V</div>
<div class="t" style="left:121.05px;top:798.00px;font-size:14.70px;transform:scaleX(0.9996);color:#231815;">Output terminal 1</div>
<div class="t" style="left:121.05px;top:817.00px;font-size:14.70px;transform:scaleX(0.9996);color:#231815;">Output terminal 2</div>
<div class="t" style="left:121.05px;top:837.00px;font-size:14.70px;transform:scaleX(0.9996);color:#231815;">Output terminal 3</div>
<div class="t" style="left:101.74px;top:856.00px;font-size:14.70px;transform:scaleX(1.0084);color:#231815;">Output terminal ground</div>
<svg style="position:absolute;left:0;top:0;overflow:visible" width="1" height="1"><circle cx="293.2" cy="676" r="8.6" fill="none" stroke="#231815" stroke-width="1.0"/><text x="293.2" y="681.08" text-anchor="middle" font-family="Liberation Sans" font-size="14.5" fill="#231815" stroke="#231815" stroke-width="0.25">4</text></svg>
<div class="t" style="left:306.80px;top:668.00px;font-size:18.99px;transform:scaleX(0.9960);color:#231815;">CN1 port</div>
<div style="position:absolute;left:283px;top:697px;width:544px;height:20px;background:#e1eef9;"></div>
<div style="position:absolute;left:283px;top:697px;width:544px;height:1px;background:#231815;"></div>
<div style="position:absolute;left:283px;top:717px;width:544px;height:1px;background:#231815;"></div>
<div style="position:absolute;left:283px;top:736px;width:544px;height:1px;background:#231815;"></div>
<div style="position:absolute;left:283px;top:756px;width:544px;height:1px;background:#231815;"></div>
<div style="position:absolute;left:283px;top:775px;width:544px;height:1px;background:#231815;"></div>
<div style="position:absolute;left:283px;top:794px;width:544px;height:1px;background:#231815;"></div>
<div style="position:absolute;left:283px;top:814px;width:544px;height:1px;background:#231815;"></div>
<div style="position:absolute;left:283px;top:833px;width:544px;height:1px;background:#231815;"></div>
<div style="position:absolute;left:283px;top:853px;width:544px;height:1px;background:#231815;"></div>
<div style="position:absolute;left:283px;top:872px;width:544px;height:1px;background:#231815;"></div>
<div style="position:absolute;left:399px;top:697px;width:1px;height:176px;background:#231815;"></div>
<div style="position:absolute;left:554px;top:697px;width:1px;height:176px;background:#231815;"></div>
<div style="position:absolute;left:671px;top:697px;width:1px;height:176px;background:#231815;"></div>
<div class="t" style="left:312.81px;top:700.00px;font-size:16.80px;transform:scaleX(1.0283);color:#0a8ad6;">Number</div>
<div class="t" style="left:459.94px;top:700.00px;font-size:16.80px;transform:scaleX(1.0105);color:#0a8ad6;">Name</div>
<div class="t" style="left:582.72px;top:700.00px;font-size:16.80px;transform:scaleX(1.0249);color:#0a8ad6;">Number</div>
<div class="t" style="left:731.43px;top:700.00px;font-size:16.80px;transform:scaleX(1.0199);color:#0a8ad6;">Name</div>
<div class="t" style="left:336.48px;top:719.00px;font-size:16.00px;transform:scaleX(1.0571);color:#231815;">1</div>
<div class="t" style="left:607.67px;top:719.00px;font-size:16.00px;transform:scaleX(1.1067);color:#231815;">9</div>
<div class="t" style="left:337.03px;top:739.00px;font-size:16.00px;transform:scaleX(1.0207);color:#231815;">2</div>
<div class="t" style="left:602.29px;top:739.00px;font-size:16.00px;transform:scaleX(1.0500);color:#231815;">10</div>
<div class="t" style="left:337.32px;top:759.00px;font-size:16.00px;transform:scaleX(0.9548);color:#231815;">3</div>
<div class="t" style="left:602.18px;top:759.00px;font-size:16.00px;transform:scaleX(1.1390);color:#231815;">11</div>
<div class="t" style="left:337.58px;top:779.00px;font-size:16.00px;transform:scaleX(0.8970);color:#231815;">4</div>
<div class="t" style="left:602.27px;top:779.00px;font-size:16.00px;transform:scaleX(1.0667);color:#231815;">12</div>
<div class="t" style="left:337.06px;top:799.00px;font-size:16.00px;transform:scaleX(0.9867);color:#231815;">5</div>
<div class="t" style="left:602.29px;top:799.00px;font-size:16.00px;transform:scaleX(1.0500);color:#231815;">13</div>
<div class="t" style="left:337.06px;top:819.00px;font-size:16.00px;transform:scaleX(0.9867);color:#231815;">6</div>
<div class="t" style="left:602.31px;top:819.00px;font-size:16.00px;transform:scaleX(1.0338);color:#231815;">14</div>
<div class="t" style="left:337.03px;top:837.00px;font-size:16.00px;transform:scaleX(1.0207);color:#231815;">7</div>
<div class="t" style="left:602.29px;top:837.00px;font-size:16.00px;transform:scaleX(1.0500);color:#231815;">15</div>
<div class="t" style="left:337.06px;top:857.00px;font-size:16.00px;transform:scaleX(0.9867);color:#231815;">8</div>
<div class="t" style="left:602.29px;top:857.00px;font-size:16.00px;transform:scaleX(1.0500);color:#231815;">16</div>
<div class="t" style="left:451.09px;top:720.00px;font-size:16.00px;transform:scaleX(0.9512);color:#231815;">CAN_H</div>
<div class="t" style="left:452.29px;top:739.00px;font-size:16.00px;transform:scaleX(0.9465);color:#231815;">CAN_L</div>
<div class="t" style="left:440.30px;top:758.00px;font-size:16.00px;transform:scaleX(0.9381);color:#231815;">CAN_GND</div>
<div class="t" style="left:722.68px;top:720.00px;font-size:16.00px;transform:scaleX(0.9646);color:#231815;">CAN_H</div>
<div class="t" style="left:723.70px;top:739.00px;font-size:16.00px;transform:scaleX(0.9386);color:#231815;">CAN_L</div>
<div class="t" style="left:711.80px;top:758.00px;font-size:16.00px;transform:scaleX(0.9368);color:#231815;">CAN_GND</div>
<svg style="position:absolute;left:0;top:0;overflow:visible" width="1" height="1"><line x1="474.2" y1="794" x2="479.9" y2="777.9" stroke="#231815" stroke-width="1.15"/></svg>
<svg style="position:absolute;left:0;top:0;overflow:visible" width="1" height="1"><line x1="745.3" y1="794" x2="751.6" y2="777.9" stroke="#231815" stroke-width="1.15"/></svg>
<svg style="position:absolute;left:0;top:0;overflow:visible" width="1" height="1"><line x1="474.2" y1="813.9" x2="479.9" y2="798" stroke="#231815" stroke-width="1.15"/></svg>
<svg style="position:absolute;left:0;top:0;overflow:visible" width="1" height="1"><line x1="745.3" y1="813.9" x2="751.6" y2="798" stroke="#231815" stroke-width="1.15"/></svg>
<svg style="position:absolute;left:0;top:0;overflow:visible" width="1" height="1"><line x1="474.2" y1="833.3" x2="479.9" y2="817.9" stroke="#231815" stroke-width="1.15"/></svg>
<svg style="position:absolute;left:0;top:0;overflow:visible" width="1" height="1"><line x1="745.3" y1="833.3" x2="751.6" y2="817.9" stroke="#231815" stroke-width="1.15"/></svg>
<svg style="position:absolute;left:0;top:0;overflow:visible" width="1" height="1"><line x1="474.2" y1="853.5" x2="479.9" y2="837.2" stroke="#231815" stroke-width="1.15"/></svg>
<svg style="position:absolute;left:0;top:0;overflow:visible" width="1" height="1"><line x1="745.3" y1="853.5" x2="751.6" y2="837.2" stroke="#231815" stroke-width="1.15"/></svg>
<svg style="position:absolute;left:0;top:0;overflow:visible" width="1" height="1"><line x1="474.2" y1="872.2" x2="479.9" y2="857.1" stroke="#231815" stroke-width="1.15"/></svg>
<svg style="position:absolute;left:0;top:0;overflow:visible" width="1" height="1"><line x1="745.3" y1="872.2" x2="751.6" y2="857.1" stroke="#231815" stroke-width="1.15"/></svg>
<svg style="position:absolute;left:0;top:0;overflow:visible" width="1" height="1"><circle cx="845" cy="717" r="8.6" fill="none" stroke="#231815" stroke-width="1.0"/><text x="845" y="722.08" text-anchor="middle" font-family="Liberation Sans" font-size="14.5" fill="#231815" stroke="#231815" stroke-width="0.25">5</text></svg>
<div class="t" style="left:857.71px;top:708.00px;font-size:19.28px;transform:scaleX(0.9908);color:#231815;">CN2 port</div>
<div style="position:absolute;left:836px;top:734px;width:266px;height:20px;background:#e1eef9;"></div>
<div style="position:absolute;left:836px;top:734px;width:266px;height:1px;background:#231815;"></div>
<div style="position:absolute;left:836px;top:754px;width:266px;height:1px;background:#231815;"></div>
<div style="position:absolute;left:836px;top:773px;width:266px;height:1px;background:#231815;"></div>
<div style="position:absolute;left:836px;top:793px;width:266px;height:1px;background:#231815;"></div>
<div style="position:absolute;left:836px;top:812px;width:266px;height:1px;background:#231815;"></div>
<div style="position:absolute;left:836px;top:831px;width:266px;height:1px;background:#231815;"></div>
<div style="position:absolute;left:836px;top:851px;width:266px;height:1px;background:#231815;"></div>
<div style="position:absolute;left:836px;top:870px;width:266px;height:1px;background:#231815;"></div>
<div style="position:absolute;left:952px;top:734px;width:1px;height:137px;background:#231815;"></div>
<div class="t" style="left:880.67px;top:738.00px;font-size:16.80px;transform:scaleX(1.0636);color:#0a8ad6;">Pin</div>
<div class="t" style="left:995.40px;top:738.00px;font-size:16.80px;transform:scaleX(1.0421);color:#0a8ad6;">Number</div>
<div class="t" style="left:890.06px;top:756.00px;font-size:16.40px;transform:scaleX(1.0759);color:#231815;">1</div>
<div class="t" style="left:890.62px;top:775.00px;font-size:16.40px;transform:scaleX(1.0400);color:#231815;">2</div>
<div class="t" style="left:890.65px;top:795.00px;font-size:16.40px;transform:scaleX(1.0065);color:#231815;">3</div>
<div class="t" style="left:891.17px;top:815.00px;font-size:16.40px;transform:scaleX(0.9176);color:#231815;">4</div>
<div class="t" style="left:890.65px;top:835.00px;font-size:16.40px;transform:scaleX(1.0065);color:#231815;">5</div>
<div class="t" style="left:890.65px;top:855.00px;font-size:16.40px;transform:scaleX(1.0065);color:#231815;">6</div>
<div class="t" style="left:1018.35px;top:756.00px;font-size:16.40px;transform:scaleX(0.8727);color:#231815;">5V</div>
<div class="t" style="left:1010.71px;top:775.00px;font-size:16.40px;transform:scaleX(0.9143);color:#231815;">GND</div>
<svg style="position:absolute;left:0;top:0;overflow:visible" width="1" height="1"><line x1="1024" y1="812.5" x2="1029.9" y2="796" stroke="#231815" stroke-width="1.15"/></svg>
<svg style="position:absolute;left:0;top:0;overflow:visible" width="1" height="1"><line x1="1024" y1="831.4" x2="1029.9" y2="815" stroke="#231815" stroke-width="1.15"/></svg>
<div class="t" style="left:1006.96px;top:834.00px;font-size:16.20px;transform:scaleX(0.9581);color:#231815;">485-A</div>
<div class="t" style="left:1006.05px;top:853.00px;font-size:16.20px;transform:scaleX(0.9846);color:#231815;">485-B</div>
<div class="t" style="left:291.57px;top:146.00px;font-size:16.38px;transform:scaleX(0.9839);color:#231815;">RS-232 port</div>
<div class="t" style="left:78.75px;top:179.00px;font-size:15.65px;transform:scaleX(0.9933);color:#231815;">CN0</div>
<div class="t" style="left:78.78px;top:222.00px;font-size:16.23px;transform:scaleX(0.9613);color:#231815;">CN1</div>
<div class="t" style="left:79.57px;top:269.00px;font-size:16.23px;transform:scaleX(0.9677);color:#231815;">CN2</div>
<div class="t" style="left:300.44px;top:318.00px;font-size:15.65px;transform:scaleX(1.0920);color:#231815;">Main circuit</div>
<div class="t" style="left:301.52px;top:337.00px;font-size:15.60px;transform:scaleX(1.1281);color:#231815;">terminal</div>
<div class="t" style="left:130.52px;top:460.00px;font-size:13.00px;transform:scaleX(1.1111);color:#f08a1c;">*</div>
<div class="t" style="left:136.85px;top:461.00px;font-size:14.78px;transform:scaleX(0.9215);color:#231815;">DS5N1 series 750W and lower</div>
</body></html>
